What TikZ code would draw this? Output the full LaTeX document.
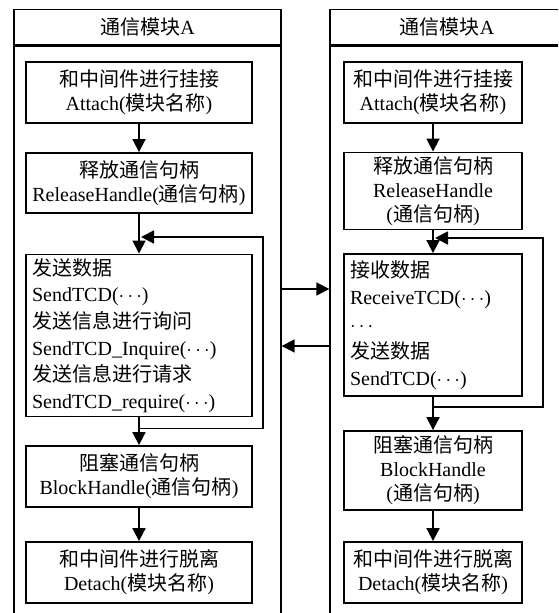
\documentclass[tikz,border=0pt]{standalone}
\usepackage{fontspec}
\setmainfont{Liberation Serif}
\newfontfamily\cjkfont{Noto Sans CJK SC}
\newcommand{\zh}[1]{{\cjkfont #1}}
\usetikzlibrary{arrows.meta, positioning}

\begin{document}
\begin{tikzpicture}[
  x=0.5pt, y=-0.5pt,
  font=\fontsize{10}{12}\selectfont,
  module/.style={
    draw,
    line width=0.7pt,
    inner sep=0pt
  },
  stepbox/.style={
    draw,
    line width=0.9pt,
    align=center,
    inner sep=2pt
  },
  listbox/.style={
    stepbox,
    align=left,
    inner xsep=3pt,
    font=\fontsize{10}{13.3}\selectfont
  },
  flow/.style={
    line width=0.9pt,
    -{Triangle[length=6.5pt, width=6.5pt]}
  }
]
\clip (0,0) rectangle (558,613);

% -------------------------------------------------------------------
% left module
% -------------------------------------------------------------------
\node[module, minimum width=133.5pt, minimum height=17.75pt] (lhead) at (147.5,27.25)
{\zh{通信模块}A};
\node[module, minimum width=133.5pt, minimum height=300pt, below=0pt of lhead] (lbody) {};

\node[stepbox, minimum width=113pt, minimum height=30.5pt] (lattach) at (139,92.5)
{\zh{和中间件进行挂接}\\Attach(\zh{模块名称})};

\node[stepbox, minimum width=113pt, minimum height=30pt] (lrelease) at (139,183)
{\zh{释放通信句柄}\\ReleaseHandle(\zh{通信句柄})};

\node[listbox, text width=107pt, minimum height=75.5pt] (lsend) at (139,335.5)
{\zh{发送数据}\\
 SendTCD($\cdots$)\\
 \zh{发送信息进行询问}\\
 SendTCD\_Inquire($\cdots$)\\
 \zh{发送信息进行请求}\\
 SendTCD\_require($\cdots$)};

\node[stepbox, minimum width=113pt, minimum height=30.5pt] (lblock) at (139,476.5)
{\zh{阻塞通信句柄}\\BlockHandle(\zh{通信句柄})};

\node[stepbox, minimum width=113pt, minimum height=30.5pt] (ldetach) at (139,572.5)
{\zh{和中间件进行脱离}\\Detach(\zh{模块名称})};

\draw[flow] (lattach) -- (lrelease);
\draw[flow] (lrelease) -- (lsend);
\draw[flow] (lsend) -- (lblock);
\draw[flow] (lblock) -- (ldetach);

% loop back
\coordinate (lret) at (141,237);
\draw[flow] (lsend.south) -- ++(0,11) -| (263,237) -- (lret);

% -------------------------------------------------------------------
% right module
% -------------------------------------------------------------------
\node[module, minimum width=117pt, minimum height=17.75pt] (rhead) at (447,27.25)
{\zh{通信模块}A};
\node[module, minimum width=117pt, minimum height=300pt, below=0pt of rhead] (rbody) {};

\node[stepbox, minimum width=89pt, minimum height=30.5pt] (rattach) at (433,92.5)
{\zh{和中间件进行挂接}\\Attach(\zh{模块名称})};

\node[stepbox, minimum width=89pt, minimum height=38pt] (rrelease) at (433,191)
{\zh{释放通信句柄}\\ReleaseHandle\\(\zh{通信句柄})};

\node[listbox, text width=83pt, minimum height=71pt, font=\fontsize{10}{13.5}\selectfont] (rrecv) at (433,325)
{\zh{接收数据}\\
 ReceiveTCD($\cdots$)\\
 $\cdots$\\
 \zh{发送数据}\\
 SendTCD($\cdots$)};

\node[stepbox, minimum width=89pt, minimum height=39.5pt] (rblock) at (433,470.5)
{\zh{阻塞通信句柄}\\BlockHandle\\(\zh{通信句柄})};

\node[stepbox, minimum width=89pt, minimum height=30.5pt] (rdetach) at (433,572.5)
{\zh{和中间件进行脱离}\\Detach(\zh{模块名称})};

\draw[flow] (rattach) -- (rrelease);
\draw[flow] (rrelease) -- (rrecv);
\draw[flow] (rrecv) -- (rblock);
\draw[flow] (rblock) -- (rdetach);

% loop back
\coordinate (rret) at (435,238);
\draw[flow] (rrecv.south) -- ++(0,10) -| (543,238) -- (rret);

% -------------------------------------------------------------------
% exchange between modules
% -------------------------------------------------------------------
\draw[flow] (lbody.east |- 0,289) -- (rbody.west |- 0,289);
\draw[flow] (rbody.west |- 0,346) -- (lbody.east |- 0,346);

\end{tikzpicture}
\end{document}
